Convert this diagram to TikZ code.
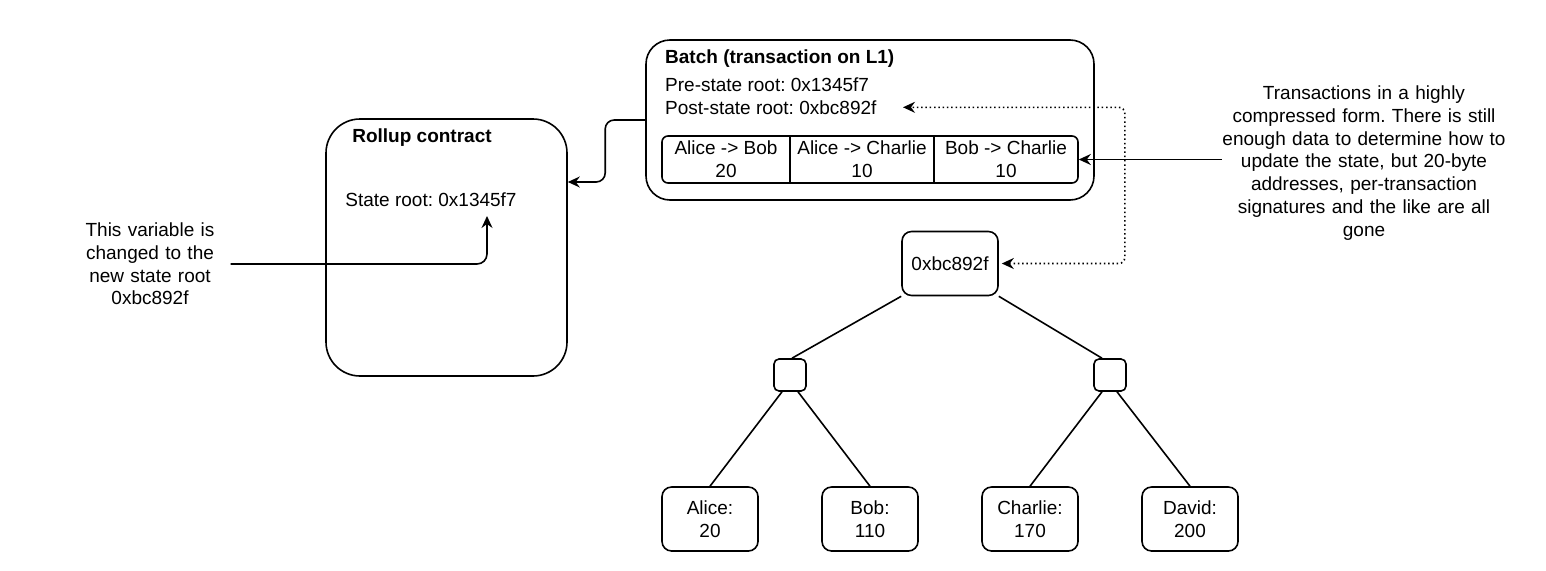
\documentclass[tikz,border=0pt]{standalone}
\usepackage{fontspec}
\setmainfont{Liberation Sans}
\usetikzlibrary{arrows.meta,calc}
\frenchspacing
\begin{document}
\frenchspacing
\begin{tikzpicture}[x=1pt,y=-1pt,
  every node/.style={font=\fontsize{19}{22.7}\selectfont\frenchspacing, text=black, inner sep=0pt},
  boldtxt/.style={font=\fontsize{19}{22.7}\selectfont\bfseries\frenchspacing},
  box/.style={draw, line width=1.6pt, rounded corners=#1},
  edge/.style={line width=1.6pt},
  tip/.style={},
  arr/.style={line width=1.6pt, -{Stealth[length=12pt,width=11pt,inset=4pt]}},
  dotarr/.style={line width=1.6pt, dash pattern=on 1.5pt off 2.8pt,
    {Stealth[length=12pt,width=11pt,inset=4pt]}-{Stealth[length=12pt,width=11pt,inset=4pt]}},
  leaf/.style={box=9.6pt, minimum width=96pt, minimum height=64pt, align=center},
  inner/.style={box=5pt, minimum width=32pt, minimum height=32pt},
  cell/.style={minimum height=47pt, align=center}
]
\useasboundingbox (0,0) rectangle (1546,570);

% Rollup contract
\node[box=34pt, minimum width=241pt, minimum height=257pt] (rollup) at (446.5,247.5) {};
\node[boldtxt, anchor=base] (rtitle) at (422,142.5) {Rollup contract};
\node[anchor=base] (rstate) at (431,206.8) {State root: 0x1345f7};
\coordinate (stateptr) at (487,216);

% Left note
\node[text width=161pt, align=center] (lnote) at (150,264)
  {This variable is\\changed to the\\new state root\\0xbc892f};

% Batch
\node[box=24pt, minimum width=448pt, minimum height=160pt] (batch) at (870,120) {};
\node[boldtxt, anchor=base west] (btitle) at (665,63.5) {Batch (transaction on L1)};
\node[anchor=base west] (pre) at (665,91.8) {Pre-state root: 0x1345f7};
\node[anchor=base west] (post) at (665,114.1) {Post-state root: 0xbc892f};
\coordinate (postpt) at (903,107.3);

% Transactions row
\node[box=6pt, minimum width=416pt, minimum height=47pt] (txrow) at (870,159.5) {};
\node[cell, minimum width=128pt] (c1) at (726,159.5) {Alice -> Bob\\20};
\node[cell, minimum width=144pt] (c2) at (862,159.5) {Alice -> Charlie\\10};
\node[cell, minimum width=144pt] (c3) at (1006,159.5) {Bob -> Charlie\\10};
\draw[edge] (c1.north east) -- (c1.south east);
\draw[edge] (c2.north east) -- (c2.south east);

% Right note
\node[text width=284pt, align=center] (rnote) at (1364,163)
  {Transactions in a highly\\compressed form. There is still\\enough data to determine how to\\update the state, but 20-byte\\addresses, per-transaction\\signatures and the like are all\\gone};

% Tree
\node[leaf] (root) at (950,263.5) {0xbc892f};
\node[inner] (sqL) at (790,375) {};
\node[inner] (sqR) at (1110,375) {};
\node[leaf] (alice) at (710,519) {Alice:\\20};
\node[leaf] (bob) at (870,519) {Bob:\\110};
\node[leaf] (charlie) at (1030,519) {Charlie:\\170};
\node[leaf] (david) at (1190,519) {David:\\200};

\draw[edge] (root.south west) -- ([xshift=2pt]sqL.north);
\draw[edge] (root.south east) -- ([xshift=-8pt]sqR.north);
\draw[edge] ([xshift=-8pt]sqL.south) -- (alice.north);
\draw[edge] ([xshift=8pt]sqL.south) -- (bob.north);
\draw[edge] ([xshift=-8pt]sqR.south) -- (charlie.north);
\draw[edge] ([xshift=7pt]sqR.south) -- (david.north);

% Connectors
\coordinate (rin) at ([yshift=65.5pt]rollup.east);
\draw[arr, rounded corners=9pt] (batch.west) -- ++(-40,0) |- (rin);
\draw[arr, rounded corners=10pt] (lnote.east) -| (stateptr);
\draw[arr] (rnote.west |- txrow.east) -- (txrow.east);
\draw[dotarr, rounded corners=6pt, shorten <=3pt] (root.east) -- ++(126,0) |- (postpt);
\end{tikzpicture}
\end{document}
